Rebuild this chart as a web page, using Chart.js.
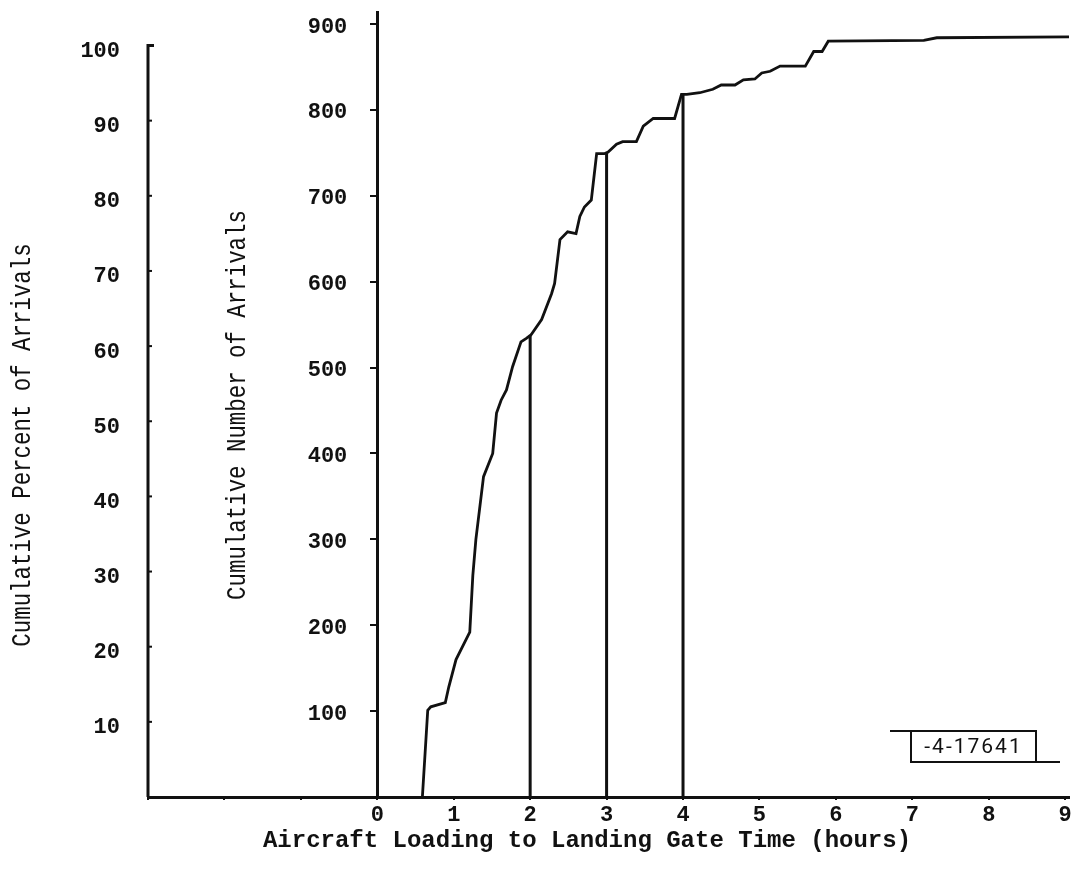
<!DOCTYPE html>
<html>
<head>
<meta charset="utf-8">
<script src="https://cdn.jsdelivr.net/npm/chart.js@4.4.1/dist/chart.umd.min.js"></script>
<style>
    html, body { margin: 0; padding: 0; background: #fff; }
    #mainContentDivId { position: relative; width: 1079px; height: 877px; }
    .tagRule { position: absolute; height: 0; border-top: 2px solid #111; }
    #tagBox {
        position: absolute; left: 910px; top: 731px; width: 123px; height: 30px;
        border-left: 2px solid #111; border-right: 2px solid #111;
        font: 21px Roboto, sans-serif; letter-spacing: 2px; color: #111;
        line-height: 31px; text-align: center;
    }
</style>
</head>
<body>
<div id="mainContentDivId">
    <canvas id="chartCanvasId"></canvas>
    <div class="tagRule" style="left:890px; top:730px; width:147px;"></div>
    <div id="tagBox">-4-17641</div>
    <div class="tagRule" style="left:910px; top:761px; width:150px;"></div>
</div>
<script>
// curve: hours vs cumulative arrivals
const hours = [0.59, 0.66, 0.70, 0.89, 0.935, 1.03, 1.21, 1.25, 1.29, 1.39, 1.51, 1.56, 1.62, 1.69,
    1.77, 1.88, 1.95, 2.01, 2.15, 2.28, 2.32, 2.39, 2.49, 2.60, 2.65, 2.71, 2.80, 2.84, 2.87, 2.97,
    3.02, 3.13, 3.21, 3.39, 3.48, 3.61, 3.89, 3.98, 4.05, 4.22, 4.39, 4.50, 4.68, 4.79, 4.94, 5.03,
    5.14, 5.27, 5.60, 5.71, 5.82, 5.90, 7.15, 7.32, 9.05];
const arrivals = [0, 101, 105, 110, 128, 160, 192, 258, 300, 373, 400, 447, 462, 474,
    501, 530, 534, 538, 556, 586, 598, 649, 658, 656, 676, 687, 695, 726, 749, 749,
    751, 760, 763, 763, 781, 790, 790, 818, 818, 820, 824, 829, 829, 835, 836, 843,
    845, 851, 851, 868, 868, 880, 881, 884, 885];

// vertical markers at 2, 3 and 4 hours
const dropHours = [2, 3, 4];
const dropArrivals = [538, 751, 818];

const hourTicks = [-3, -2, -1, 0, 1, 2, 3, 4, 5, 6, 7, 8, 9];
const arrivalTicks = [100, 200, 300, 400, 500, 600, 700, 800, 900];
const percentTicks = [10, 20, 30, 40, 50, 60, 70, 80, 90, 100];

const totalArrivals = 875;
const arrivalMax = 914;

const xTitle = "Aircraft Loading to Landing Gate Time (hours)";
const percentTitle = "Cumulative Percent of Arrivals";
const numberTitle = "Cumulative Number of Arrivals";

const ink = "#111";
const tickFont = { family: "'Liberation Mono', monospace", size: 22, weight: "bold" };

window.addEventListener("DOMContentLoaded", init);

function drawVertical(ctx, text, x, y) {
    ctx.save();
    ctx.translate(x, y);
    ctx.rotate(-Math.PI / 2);
    ctx.scale(0.8, 1);
    ctx.font = "28px 'Liberation Mono', monospace";
    ctx.fillText(text, 0, 0);
    ctx.restore();
}

function noPadding(s) {
    s.paddingTop = 0;
    s.paddingBottom = 0;
}

const decorPlugin = {
    id: "decor",
    afterDraw(chart) {
        const ctx = chart.ctx;
        const xs = chart.scales.x;
        const yp = chart.scales.yP;
        const yn = chart.scales.yN;
        const left = xs.getPixelForValue(-3);
        const zeroX = xs.getPixelForValue(0);
        const top = yp.getPixelForValue(100);
        const bottom = yp.getPixelForValue(0);

        ctx.save();
        // percent axis only runs up to 100 %
        ctx.strokeStyle = ink;
        ctx.lineWidth = 3;
        ctx.beginPath();
        ctx.moveTo(left, bottom);
        ctx.lineTo(left, top);
        ctx.lineTo(left + 6, top);
        ctx.stroke();

        ctx.lineWidth = 2;
        percentTicks.forEach(v => {
            if (v < 100) {
                const y = yp.getPixelForValue(v);
                ctx.beginPath();
                ctx.moveTo(left, y);
                ctx.lineTo(left + 4, y);
                ctx.stroke();
            }
        });

        // number axis labels sit well left of the axis line
        ctx.fillStyle = ink;
        ctx.font = "bold 22px 'Liberation Mono', monospace";
        ctx.textAlign = "right";
        ctx.textBaseline = "middle";
        arrivalTicks.forEach(v => {
            ctx.fillText(String(v), zeroX - 30, yn.getPixelForValue(v) + 3);
        });

        ctx.textAlign = "center";
        drawVertical(ctx, percentTitle, 23, 445);
        drawVertical(ctx, numberTitle, 238, 405);
        ctx.font = "bold 24px 'Liberation Mono', monospace";
        ctx.fillText(xTitle, 587, 841);
        ctx.restore();
    }
};

function init() {
    const chartCanvas = document.getElementById("chartCanvasId");

    const curve = hours.map((h, i) => ({ x: h, y: arrivals[i] }));
    const drops = dropHours.map((h, i) => ({
        data: [{ x: h, y: 0 }, { x: h, y: dropArrivals[i] }],
        borderColor: ink,
        borderWidth: 3,
        pointRadius: 0,
        yAxisID: "yN"
    }));

    new Chart(chartCanvas, {
        type: "line",
        data: {
            datasets: [{
                data: curve,
                borderColor: ink,
                borderWidth: 2.8,
                pointRadius: 0,
                tension: 0,
                yAxisID: "yN"
            }].concat(drops)
        },
        options: {
            responsive: true,
            maintainAspectRatio: false,
            animation: false,
            layout: { padding: { top: 12, right: 10, left: 0, bottom: 0 } },
            plugins: { legend: { display: false }, tooltip: { enabled: false } },
            scales: {
                x: {
                    type: "linear",
                    min: -3,
                    max: 9.05,
                    afterBuildTicks: s => { s.ticks = hourTicks.map(v => ({ value: v })); },
                    afterFit: s => { s.height = 80; },
                    ticks: {
                        callback: v => (v >= 0 ? v : ""),
                        font: tickFont,
                        color: ink,
                        padding: 2,
                        maxRotation: 0,
                        autoSkip: false
                    },
                    grid: { drawOnChartArea: false, tickLength: 3, color: ink, lineWidth: 2 },
                    border: { color: ink, width: 3 }
                },
                yN: {
                    type: "linear",
                    position: { x: 0 },
                    min: 0,
                    max: arrivalMax,
                    afterBuildTicks: s => { s.ticks = arrivalTicks.map(v => ({ value: v })); },
                    afterFit: noPadding,
                    ticks: { display: false },
                    grid: { drawOnChartArea: false, tickLength: 6, color: ink, lineWidth: 2 },
                    border: { color: ink, width: 3 }
                },
                yP: {
                    type: "linear",
                    position: "left",
                    min: 0,
                    max: arrivalMax / totalArrivals * 100,
                    afterBuildTicks: s => { s.ticks = percentTicks.map(v => ({ value: v })); },
                    afterFit: s => { s.width = 148; noPadding(s); },
                    ticks: { font: tickFont, color: ink, padding: 28, labelOffset: 6 },
                    grid: { display: false, drawTicks: false },
                    border: { display: false }
                }
            }
        },
        plugins: [decorPlugin]
    });
}
</script>
</body>
</html>
